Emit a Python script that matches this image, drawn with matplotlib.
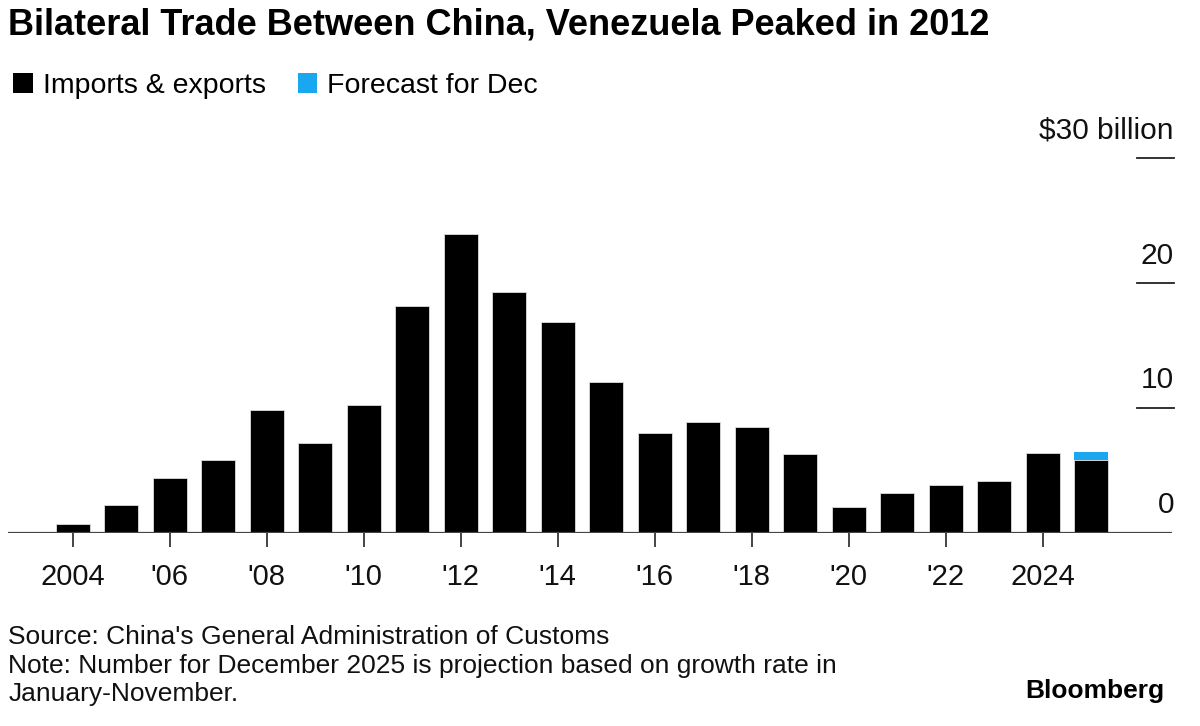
import numpy as np
import matplotlib
matplotlib.use("Agg")
import matplotlib.pyplot as plt
from matplotlib.patches import Patch

plt.rcParams['font.family'] = ['Liberation Sans', 'DejaVu Sans']

# datos: comercio bilateral China-Venezuela, miles de millones de USD
years = np.arange(2004, 2026)
trade = [0.7, 2.2, 4.35, 5.85, 9.85, 7.15, 10.25, 18.15, 23.9, 19.3, 16.9, 12.1,
         8.0, 8.9, 8.45, 6.3, 2.05, 3.15, 3.85, 4.15, 6.35, 5.85]
forecast = [0, 0, 0, 0, 0, 0, 0, 0, 0, 0, 0, 0, 0, 0, 0, 0, 0, 0, 0, 0, 0, 0.6]
tick_years = [2004, 2006, 2008, 2010, 2012, 2014, 2016, 2018, 2020, 2022, 2024]
tick_labels = ["2004", "'06", "'08", "'10", "'12", "'14", "'16", "'18", "'20", "'22", "2024"]
ylevels = [0, 10, 20, 30]
ylabels = ["0", "10", "20", "$30 billion"]

black = "#000000"
blue = "#1BA6F0"

fig = plt.figure(figsize=(12, 7.26), dpi=100)
ax = fig.add_axes([0.0064, 0.2663, 0.9703, 0.5157])

ax.bar(years, trade, width=0.7, color=black, edgecolor="#dddddd", linewidth=0.6, zorder=2)
ax.bar(years, forecast, width=0.7, bottom=trade, color=blue, linewidth=0, zorder=2)

ax.set_xlim(2002.66, 2026.67)
ax.set_ylim(0, 30)

for s in ax.spines.values():
    s.set_visible(False)
ax.axhline(0, color="#444444", linewidth=1.6, zorder=3)

ax.set_xticks(tick_years)
ax.set_xticklabels(tick_labels, fontsize=21, color="#111111")
ax.tick_params(axis="x", length=10, width=1.4, color="#444444", pad=12)
ax.set_yticks([])

# marcas cortas a la derecha con sus etiquetas encima
tr = ax.get_yaxis_transform()
for v, lab in zip(ylevels, ylabels):
    if v > 0:
        ax.plot([0.970, 1.0016], [v, v], transform=tr, color="#222222", linewidth=1.3, clip_on=False)
    ax.text(1.0016, v + 2.2, lab, transform=tr, ha="right", va="center",
            fontsize=21.5, color="#111111", clip_on=False)

fig.text(0.007, 0.966, "Bilateral Trade Between China, Venezuela Peaked in 2012",
         fontsize=26, fontweight="bold", va="center", ha="left")

handles = [Patch(facecolor=black, label="Imports & exports"),
           Patch(facecolor=blue, label="Forecast for Dec")]
fig.legend(handles=handles, loc="center left", bbox_to_anchor=(0.004, 0.882), ncol=2,
           frameon=False, fontsize=20.5, handlelength=0.7, handleheight=0.7,
           handletextpad=0.35, columnspacing=1.1, borderaxespad=0, borderpad=0.3)

fig.text(0.007, 0.122, "Source: China's General Administration of Customs", fontsize=19,
         va="center", color="#111111")
fig.text(0.007, 0.083, "Note: Number for December 2025 is projection based on growth rate in",
         fontsize=19, va="center", color="#111111")
fig.text(0.007, 0.044, "January-November.", fontsize=19, va="center", color="#111111")
fig.text(0.970, 0.048, "Bloomberg", fontsize=19, fontweight="bold", va="center", ha="right")

fig.savefig("out.png", dpi=100)
